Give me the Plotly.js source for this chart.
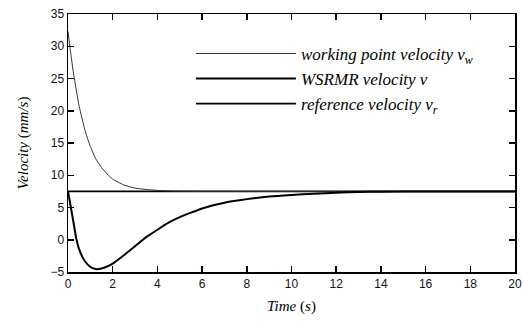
<!DOCTYPE html>
<html>
<head>
<meta charset="utf-8">
<script src="https://cdn.plot.ly/plotly-3.0.1.min.js"></script>
<style>html,body{margin:0;padding:0;background:#fff;}#chart{width:522px;height:321px;}</style>
</head>
<body>
<div id="chart"></div>
<script>
// Working point velocity v_w
const timeW = [0, 0.1, 0.25, 0.5, 0.75, 1.0, 1.25, 1.5, 1.75, 2.0, 2.5, 3.0, 3.5, 4.0, 4.5, 5.0, 6.0, 8.0, 12.0, 20.0];
const velW  = [32.3, 29.5, 25.7, 20.7, 17.1, 14.45, 12.5, 11.2, 10.2, 9.4, 8.5, 8.0, 7.8, 7.65, 7.58, 7.54, 7.51, 7.5, 7.5, 7.5];

// WSRMR velocity v
const timeV = [0, 0.13, 0.25, 0.37, 0.5, 0.75, 1.0, 1.25, 1.5, 1.75, 2.0, 2.5, 3.0, 3.5, 4.0, 4.5, 5.0, 5.5, 6.0, 6.5, 7.0, 7.5, 8.0, 9.0, 10.0, 11.0, 12.0, 13.0, 14.0, 16.0, 20.0];
const velV  = [7.5, 5.0, 2.6, 0.2, -1.5, -3.3, -4.2, -4.55, -4.45, -4.15, -3.7, -2.4, -1.0, 0.4, 1.55, 2.65, 3.5, 4.2, 4.85, 5.35, 5.75, 6.05, 6.3, 6.7, 6.95, 7.15, 7.3, 7.4, 7.45, 7.49, 7.5];

// Reference velocity v_r
const timeR = [0, 20];
const velR  = [7.5, 7.5];

const xTicks = [0, 2, 4, 6, 8, 10, 12, 14, 16, 18, 20];
const yTicks = [-5, 0, 5, 10, 15, 20, 25, 30, 35];

const names = ['working point velocity v<sub>w</sub>', 'WSRMR velocity v', 'reference velocity v<sub>r</sub>'];

const SERIF = '"Liberation Serif", "Times New Roman", Times, serif';
const SANS = '"Liberation Sans", Arial, Helvetica, sans-serif';

const traces = [
  {x: timeR, y: velR, mode: 'lines', name: names[2], legendrank: 3, legendgroup: 'c',
   line: {color: '#000', width: 1.8}},
  {x: timeW, y: velW, mode: 'lines', name: names[0], legendrank: 1, legendgroup: 'a',
   line: {color: '#333', width: 1, shape: 'spline', smoothing: 0.5}},
  {x: timeV, y: velV, mode: 'lines', name: names[1], legendrank: 2, legendgroup: 'b',
   line: {color: '#000', width: 2, shape: 'spline', smoothing: 0.5}}
];

const layout = {
  width: 522, height: 321,
  margin: {l: 68, r: 7, t: 14, b: 49},
  font: {family: SERIF},
  showlegend: true,
  legend: {
    x: 0.275, y: 0.915, xanchor: 'left', yanchor: 'top',
    bgcolor: 'rgba(0,0,0,0)', borderwidth: 0,
    itemwidth: 100, traceorder: 'grouped', tracegroupgap: 0,
    font: {family: SERIF, size: 17, color: '#000', style: 'italic'}
  },
  xaxis: {
    range: [0, 20], tickvals: xTicks,
    ticks: 'inside', ticklen: 6, tickwidth: 1.5, tickcolor: 'black',
    showline: true, mirror: 'allticks', linecolor: 'black', linewidth: 1.5,
    showgrid: false, zerolinecolor: 'rgba(0,0,0,0)',
    tickfont: {family: SANS, size: 12, color: '#111'},
    title: {text: '<i>Time</i> (<i>s</i>)', standoff: 10,
            font: {family: SERIF, size: 15, color: '#000'}}
  },
  yaxis: {
    range: [-5, 35], tickvals: yTicks,
    ticks: 'inside', ticklen: 6, tickwidth: 1.5, tickcolor: 'black',
    showline: true, mirror: 'allticks', linecolor: 'black', linewidth: 1.5,
    showgrid: false, zerolinecolor: 'rgba(0,0,0,0)',
    tickfont: {family: SANS, size: 12, color: '#111'},
    title: {text: '<i>Velocity</i> (<i>mm/s</i>)', standoff: 18,
            font: {family: SERIF, size: 15, color: '#000'}}
  }
};

Plotly.newPlot('chart', traces, layout, {staticPlot: true, displayModeBar: false});
</script>
</body>
</html>
